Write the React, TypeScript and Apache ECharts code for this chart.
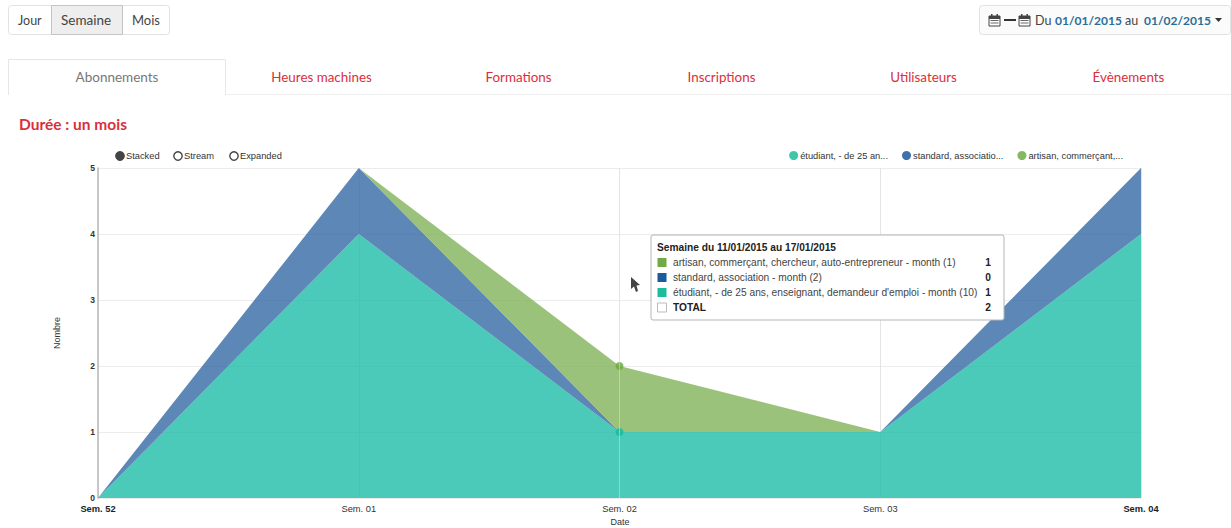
import React, { useEffect, useRef } from "react";
import * as echarts from "echarts";

const categories = ["Sem. 52", "Sem. 01", "Sem. 02", "Sem. 03", "Sem. 04"];
const studentValues = [0, 4, 1, 1, 4];
const standardValues = [0, 1, 0, 0, 1];
const artisanValues = [0, 0, 1, 0, 0];
const seriesNames = ["étudiant, - de 25 an...", "standard, associatio...", "artisan, commerçant,..."];
const tabs = ["Heures machines", "Formations", "Inscriptions", "Utilisateurs", "Évènements"];
const tooltipRows = [
  ["artisan, commerçant, chercheur, auto-entrepreneur - month (1)", "1"],
  ["standard, association - month (2)", "0"],
  ["étudiant, - de 25 ans, enseignant, demandeur d'emploi - month (10)", "1"],
  ["TOTAL", "2"],
];

const TEAL = "#1FBDA7";
const BLUE = "#3369A4";
const GREEN = "#82B359";
const TEAL_KEY = "#1ABC9C";
const BLUE_KEY = "#1B5A9E";
const GREEN_KEY = "#6FAB45";
const RED = "#D9303A";
const UI = "Lato, 'Open Sans', sans-serif";
const CH = "'Liberation Sans', Arial, sans-serif";

const txt = (x: number, y: number, text: string, fill: string, size: number, extra: any = {}) => ({
  type: "text", x, y, silent: true,
  style: { text, fill, fontSize: size, fontFamily: UI, textVerticalAlign: "middle", verticalAlign: "middle", ...extra },
});
const box = (x: number, y: number, width: number, height: number, fill: string, stroke = "none", r = 0, extra: any = {}) => ({
  type: "rect", silent: true, shape: { x, y, width, height, r },
  style: { fill, stroke, lineWidth: 1 }, ...extra,
});
const seg = (x1: number, y1: number, x2: number, y2: number, stroke: string, lineWidth = 1, z = 0) => ({
  type: "line", silent: true, z, shape: { x1, y1, x2, y2 }, style: { stroke, lineWidth },
});

function calendar(x: number, y: number) {
  return [
    box(x, y + 2, 11, 10, "#fff", "#444"),
    box(x, y + 2, 11, 3, "#444"),
    box(x + 2, y, 1.5, 3, "#444"),
    box(x + 7.5, y, 1.5, 3, "#444"),
    box(x + 1.5, y + 6, 8, 1, "#666"),
    box(x + 1.5, y + 8.5, 8, 1, "#666"),
  ];
}

function buildGraphics() {
  const g: any[] = [];
  // Period buttons
  g.push(box(8.5, 5.5, 161, 29, "#fff", "#e2e2e2", 3));
  g.push(box(51.5, 5.5, 71, 29, "#eeeeee", "#c4c4c4"));
  g.push(txt(18, 20, "Jour", "#444", 12.5));
  g.push(txt(61, 20, "Semaine", "#444", 13.5));
  g.push(txt(132, 20, "Mois", "#444", 13));
  // Date range
  g.push(box(979.5, 5.5, 251, 29, "#fbfbfb", "#e2e2e2", 3));
  g.push(...calendar(989, 14));
  g.push(seg(1004, 20, 1016, 20, "#333", 2));
  g.push(...calendar(1019, 14));
  g.push(txt(1035, 20, "Du", "#444", 12.5));
  g.push(txt(1055, 20, "01/01/2015", "#2A6E96", 12, { fontWeight: "bold" }));
  g.push(txt(1125, 20, "au", "#444", 12.5));
  g.push(txt(1144, 20, "01/02/2015", "#2A6E96", 12, { fontWeight: "bold" }));
  g.push({ type: "polygon", silent: true, shape: { points: [[1215, 18], [1222, 18], [1218.5, 22]] }, style: { fill: "#333" } });
  // Tabs
  g.push(seg(226, 94.5, 1231, 94.5, "#eeeeee"));
  g.push({ type: "polyline", silent: true, shape: { points: [[8.5, 95], [8.5, 59.5], [225.5, 59.5], [225.5, 95]] }, style: { stroke: "#e6e6e6", fill: "none", lineWidth: 1 } });
  g.push(txt(117, 77, "Abonnements", "#777", 13.5, { align: "center", textAlign: "center" }));
  const tabCenters = [321.5, 518.5, 721.5, 923.5, 1128.5];
  tabs.forEach((t, i) => g.push(txt(tabCenters[i], 77, t, RED, 13.4, { align: "center", textAlign: "center" })));
  g.push(txt(19, 123.5, "Durée : un mois", RED, 15.5, { fontWeight: "bold" }));
  // Chart style switch
  const ctl = [[120, 126, "Stacked", true], [178, 184, "Stream", false], [234, 240, "Expanded", false]] as const;
  ctl.forEach(([cx, tx, label, on]) => {
    g.push({ type: "circle", silent: true, shape: { cx, cy: 156, r: 4.2 }, style: { fill: on ? "#444" : "#fff", stroke: "#444", lineWidth: 1.4 } });
    g.push(txt(tx, 156, label, "#333", 9.3, { fontFamily: CH }));
  });
  // Axis titles
  g.push({ ...txt(57, 333, "Nombre", "#333", 9, { fontFamily: CH, align: "center", textAlign: "center" }), rotation: Math.PI / 2 });
  g.push(txt(620, 522, "Date", "#333", 9, { fontFamily: CH, align: "center", textAlign: "center" }));
  // Tooltip
  g.push(box(651, 235, 353, 85, "#fff", "#b5b5b5", 2, { z: 50 }));
  g.push({ ...txt(657, 247.5, "Semaine du 11/01/2015 au 17/01/2015", "#222", 10.2, { fontFamily: CH, fontWeight: "bold" }), z: 51 });
  const swatches = [GREEN_KEY, BLUE_KEY, TEAL_KEY, "#fff"];
  tooltipRows.forEach(([label, value], i) => {
    const y = 262.5 + i * 15;
    const bold = i === 3;
    g.push(box(657.5, y - 4.5, 9, 9, swatches[i], i === 3 ? "#bbb" : "none", 0, { z: 51 }));
    g.push({ ...txt(673, y, label, bold ? "#222" : "#444", 10.2, { fontFamily: CH, fontWeight: bold ? "bold" : "normal" }), z: 51 });
    g.push({ ...txt(991, y, value, "#222", 10.2, { fontFamily: CH, fontWeight: "bold", align: "right", textAlign: "right" }), z: 51 });
  });
  // Cursor
  g.push({ type: "polygon", silent: true, z: 52, shape: { points: [[631, 277], [631, 289], [634, 286.5], [636, 292], [638, 291], [636.5, 285.5], [640, 285]] }, style: { fill: "#444" } });
  return g;
}

export default function App() {
  const ref = useRef<HTMLDivElement>(null);
  useEffect(() => {
    document.body.style.margin = "0";
    const chart = echarts.init(ref.current!, undefined, { renderer: "svg" });
    const dotAt = (index: number) => (_v: any, p: any) => (p.dataIndex === index ? 8 : 0);
    const area = (name: string, data: number[], color: string, key: string, dots: boolean, extra: any = {}) => ({
      name, type: "line", stack: "total", data, color: key,
      symbol: "circle", showSymbol: true, showAllSymbol: true,
      symbolSize: dots ? dotAt(2) : 0,
      lineStyle: { width: 0 },
      itemStyle: { color: key, opacity: 0.85 },
      areaStyle: { color, opacity: 0.8 },
      emphasis: { disabled: true },
      ...extra,
    });
    chart.setOption({
      animation: false,
      backgroundColor: "#fff",
      textStyle: { fontFamily: CH },
      grid: { left: 98, right: 90, top: 168, bottom: 30 },
      legend: {
        top: 151, right: 108, itemWidth: 9, itemHeight: 9, itemGap: 14, icon: "circle",
        selectedMode: false, padding: 0,
        textStyle: { fontSize: 9.3, color: "#333", fontFamily: CH, padding: [0, 0, 0, -3] },
        data: seriesNames,
      },
      xAxis: {
        type: "category", data: categories, boundaryGap: false,
        axisLine: { show: false }, axisTick: { show: false },
        splitLine: { show: true, lineStyle: { color: "#e4e4e4", width: 1 } },
        axisLabel: {
          interval: 0, margin: 6, fontSize: 9.3, color: "#333", fontFamily: CH, showMinLabel: true, showMaxLabel: true,
          formatter: (v: string, i: number) => (i === 0 || i === categories.length - 1 ? `{b|${v}}` : v),
          rich: { b: { fontWeight: "bold", fontSize: 9.3, color: "#222", fontFamily: CH } },
        },
      },
      yAxis: {
        type: "value", min: 0, max: 5, interval: 1,
        axisLine: { show: true, lineStyle: { color: "#b8b8b8", width: 1.5 } }, axisTick: { show: false },
        splitLine: { lineStyle: { color: "#ececec", width: 1 } },
        axisLabel: { margin: 3, fontSize: 8.5, color: "#333", fontFamily: CH, fontWeight: "bold" },
      },
      series: [
        area(seriesNames[0], studentValues, TEAL, TEAL_KEY, true),
        area(seriesNames[1], standardValues, BLUE, BLUE_KEY, false),
        area(seriesNames[2], artisanValues, GREEN, GREEN_KEY, true, {
          markLine: {
            silent: true, symbol: "none", label: { show: false },
            lineStyle: { color: "#e2e8e6", width: 1, type: "solid", opacity: 0.5 },
            data: [{ xAxis: categories[2] }],
          },
        }),
      ],
      graphic: buildGraphics(),
    });
    return () => chart.dispose();
  }, []);
  return <div ref={ref} style={{ width: 1231, height: 528 }} />;
}
